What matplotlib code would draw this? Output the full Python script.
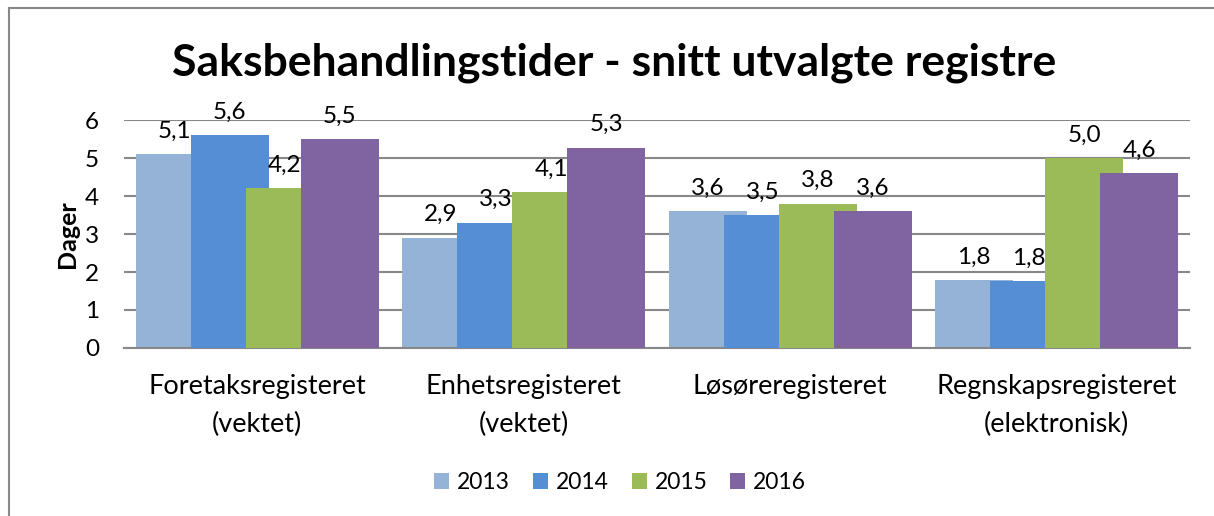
import matplotlib.pyplot as plt
import numpy as np
from matplotlib.lines import Line2D

categories = ['Foretaksregisteret\n(vektet)', 'Enhetsregisteret\n(vektet)',
              'Løsøreregisteret', 'Regnskapsregisteret\n(elektronisk)']
years = ['2013', '2014', '2015', '2016']
v2013 = [5.1, 2.9, 3.6, 1.78]
v2014 = [5.6, 3.3, 3.5, 1.75]
v2015 = [4.2, 4.1, 3.8, 5.0]
v2016 = [5.5, 5.27, 3.6, 4.6]
series = [v2013, v2014, v2015, v2016]
colors = ['#95B3D7', '#558ED5', '#9BBB59', '#8064A2']

plt.rcParams['font.family'] = ['Lato', 'DejaVu Sans']

fig = plt.figure(figsize=(12.14, 5.16), dpi=100)
ax = fig.add_axes([0.1021, 0.3256, 0.878, 0.4418])

x = np.arange(len(categories))
width = 0.293
step = 0.2065
for i, (vals, col, yr) in enumerate(zip(series, colors, years)):
    pos = x + (i - 1.5) * step
    bars = ax.bar(pos, vals, width, color=col, label=yr, zorder=2 + i)
    for b, v in zip(bars, vals):
        ax.annotate(f'{v:.1f}'.replace('.', ','), (b.get_x() + b.get_width() / 2, v),
                    xytext=(0, 9), textcoords='offset points',
                    ha='center', va='bottom', fontsize=17.5, zorder=10)

ax.set_xlim(-0.5, 3.5)
ax.set_ylim(0, 6)
ax.set_yticks(range(7))
ax.yaxis.grid(True, color='#888888', linewidth=1.5, zorder=0)
ax.set_axisbelow(True)
for s in ['top', 'right', 'left']:
    ax.spines[s].set_visible(False)
ax.spines['bottom'].set_color('#888888')
ax.spines['bottom'].set_linewidth(1.5)
ax.tick_params(axis='y', length=0, labelsize=17.5, pad=18)
ax.tick_params(axis='x', length=0, labelsize=19.5, pad=19)
ax.set_xticks(x)
ax.set_xticklabels(categories, linespacing=1.6)
ax.set_ylabel('Dager', fontsize=18, fontweight='bold', labelpad=4)

fig.text(0.506, 0.878, 'Saksbehandlingstider - snitt utvalgte registre',
         ha='center', va='center', fontsize=32, fontweight='bold')

fig.legend(loc='center', bbox_to_anchor=(0.511, 0.065), ncol=4, frameon=False,
           fontsize=16.5, handlelength=0.65, handleheight=0.65, handletextpad=0.35,
           columnspacing=1.0)

fig.add_artist(Line2D([9 / 1214, 9 / 1214], [0, 1 - 8 / 516], color='#888888', linewidth=1.5))
fig.add_artist(Line2D([9 / 1214, 1], [1 - 8 / 516, 1 - 8 / 516], color='#888888', linewidth=1.5))

fig.savefig('out.png', dpi=100)
